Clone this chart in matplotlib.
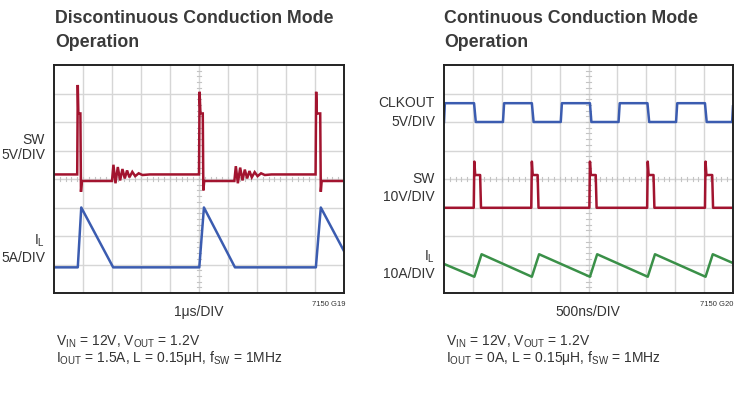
import matplotlib
matplotlib.use("Agg")
import matplotlib.pyplot as plt

plt.rcParams["font.family"] = ["Liberation Sans", "DejaVu Sans"]
plt.rcParams["mathtext.fontset"] = "custom"
plt.rcParams["mathtext.rm"] = "Liberation Sans"
plt.rcParams["mathtext.default"] = "regular"

# --- left scope: discontinuous mode (x in divisions, y in divisions from bottom)
dcm_sw_x = [0, 0.80, 0.82, 0.84, 0.86, 0.91, 0.93, 0.96,
            2.00, 2.05, 2.12, 2.20, 2.28, 2.36, 2.44, 2.52, 2.60, 2.70, 2.80, 2.92, 3.05, 3.30,
            5.00, 5.02, 5.05, 5.13, 5.15, 5.18,
            6.22, 6.27, 6.34, 6.42, 6.50, 6.58, 6.66, 6.74, 6.82, 6.92, 7.02, 7.14, 7.27, 7.50,
            9.02, 9.04, 9.06, 9.18, 9.20, 9.23, 10.0]
dcm_sw_y = [4.16, 4.16, 7.30, 6.30, 6.30, 6.30, 3.55, 3.93,
            3.93, 4.50, 3.85, 4.42, 3.95, 4.35, 4.02, 4.30, 4.06, 4.25, 4.10, 4.20, 4.14, 4.16,
            4.16, 7.06, 6.30, 6.30, 3.60, 3.93,
            3.93, 4.45, 3.85, 4.40, 3.95, 4.33, 4.02, 4.28, 4.06, 4.24, 4.10, 4.20, 4.14, 4.16,
            4.16, 7.06, 6.30, 6.30, 3.55, 3.93, 3.93]
dcm_il_x = [0, 0.82, 0.94, 2.04, 5.01, 5.17, 6.24, 9.03, 9.20, 10.0]
dcm_il_y = [0.90, 0.90, 3.00, 0.90, 0.90, 3.00, 0.90, 0.90, 3.00, 1.47]

# --- right scope: continuous mode
ccm_clk_x = [0, 0.03, 1.04, 1.10, 2.04, 2.08, 3.04, 3.10, 4.04, 4.08, 5.05, 5.10,
             6.04, 6.08, 7.04, 7.10, 8.03, 8.07, 9.03, 9.09, 9.97, 10.0]
ccm_clk_y = [6.0, 6.66, 6.66, 6.0, 6.0, 6.66, 6.66, 6.0, 6.0, 6.66, 6.66, 6.0,
             6.0, 6.66, 6.66, 6.0, 6.0, 6.66, 6.66, 6.0, 6.0, 6.55]
ccm_sw_x = [0, 1.03, 1.05, 1.08, 1.25, 1.28,
            3.02, 3.04, 3.07, 3.24, 3.27,
            5.03, 5.05, 5.08, 5.25, 5.28,
            7.03, 7.05, 7.08, 7.25, 7.28,
            9.03, 9.05, 9.08, 9.28, 9.31, 10.0]
ccm_sw_y = [2.99, 2.99, 4.61, 4.14, 4.14, 2.99,
            2.99, 4.61, 4.14, 4.14, 2.99,
            2.99, 4.61, 4.14, 4.14, 2.99,
            2.99, 4.61, 4.14, 4.14, 2.99,
            2.99, 4.61, 4.14, 4.14, 2.99, 2.99]
ccm_il_x = [0, 1.05, 1.30, 3.04, 3.29, 5.05, 5.30, 7.05, 7.30, 9.05, 9.30, 10.0]
ccm_il_y = [1.02, 0.57, 1.36, 0.57, 1.36, 0.57, 1.36, 0.57, 1.36, 0.57, 1.36, 1.05]

RED = "#a2142f"
BLUE = "#3b5cb0"
GREEN = "#3a9048"
TXT = "#333333"

fig = plt.figure(figsize=(7.47, 3.99), dpi=100)
W, H = 747.0, 399.0


def scope(left, width):
    ax = fig.add_axes([left / W, (H - 293) / H, width / W, 228 / H])
    ax.set_xlim(0, 10)
    ax.set_ylim(0, 8)
    for i in range(1, 10):
        ax.axvline(i, color="#d6d6d6", lw=1, zorder=0)
    for j in range(1, 8):
        ax.axhline(j, color="#d6d6d6", lw=1, zorder=0)
    # center graticule ticks
    for k in range(1, 50):
        ax.plot([k * 0.2, k * 0.2], [3.93, 4.07], color="#c4c4c4", lw=0.8, zorder=0)
    for k in range(1, 40):
        ax.plot([4.93, 5.07], [k * 0.2, k * 0.2], color="#c4c4c4", lw=0.8, zorder=0)
    ax.set_xticks([])
    ax.set_yticks([])
    for s in ax.spines.values():
        s.set_linewidth(1.4)
        s.set_color("#222222")
    return ax


ax1 = scope(54, 290)
ax1.plot(dcm_sw_x, dcm_sw_y, color=RED, lw=1.8, solid_joinstyle="miter")
ax1.plot(dcm_il_x, dcm_il_y, color=BLUE, lw=1.8)

ax2 = scope(444, 289)
ax2.plot(ccm_clk_x, ccm_clk_y, color=BLUE, lw=1.8)
ax2.plot(ccm_sw_x, ccm_sw_y, color=RED, lw=1.8)
ax2.plot(ccm_il_x, ccm_il_y, color=GREEN, lw=1.8)

def ft(x, y, s, **kw):
    fig.text(x / W, 1 - y / H, s, **kw)

# titles
tkw = dict(fontsize=12.8, fontweight="bold", color="#3a3a3a", va="baseline")
ft(55, 23, "Discontinuous Conduction Mode", **tkw)
ft(55, 47, "Operation", **tkw)
ft(444, 23, "Continuous Conduction Mode", **tkw)
ft(444, 47, "Operation", **tkw)

# channel labels
lab = dict(fontsize=10, color=TXT, ha="right", va="center")
blab = dict(fontsize=10, color=TXT, ha="right", va="baseline")
ft(45, 139.5, "SW", **lab)
ft(45, 155, "5V/DIV", **lab)
ft(45, 245, "I$_L$", **blab)
ft(45, 261.5, "5A/DIV", **blab)
ft(435, 103, "CLKOUT", **lab)
ft(435, 121.5, "5V/DIV", **lab)
ft(435, 178.5, "SW", **lab)
ft(435, 197, "10V/DIV", **lab)
ft(435, 261, "I$_L$", **blab)
ft(435, 278, "10A/DIV", **blab)

# time base and figure ids
ft(199, 312, "1μs/DIV", fontsize=10, color=TXT, ha="center", va="center")
ft(588, 312, "500ns/DIV", fontsize=10, color=TXT, ha="center", va="center")
ft(345, 304, "7150 G19", fontsize=5.5, color=TXT, ha="right", va="center")
ft(733, 304, "7150 G20", fontsize=5.5, color=TXT, ha="right", va="center")

# conditions
cond = dict(fontsize=10, color=TXT, ha="left", va="center")
ft(56, 342, "V$_{IN}$ = 12V, V$_{OUT}$ = 1.2V", **cond)
ft(56, 358, "I$_{OUT}$ = 1.5A, L = 0.15μH, f$_{SW}$ = 1MHz", **cond)
ft(446, 342, "V$_{IN}$ = 12V, V$_{OUT}$ = 1.2V", **cond)
ft(446, 358, "I$_{OUT}$ = 0A, L = 0.15μH, f$_{SW}$ = 1MHz", **cond)

fig.savefig("out.png", dpi=100)
